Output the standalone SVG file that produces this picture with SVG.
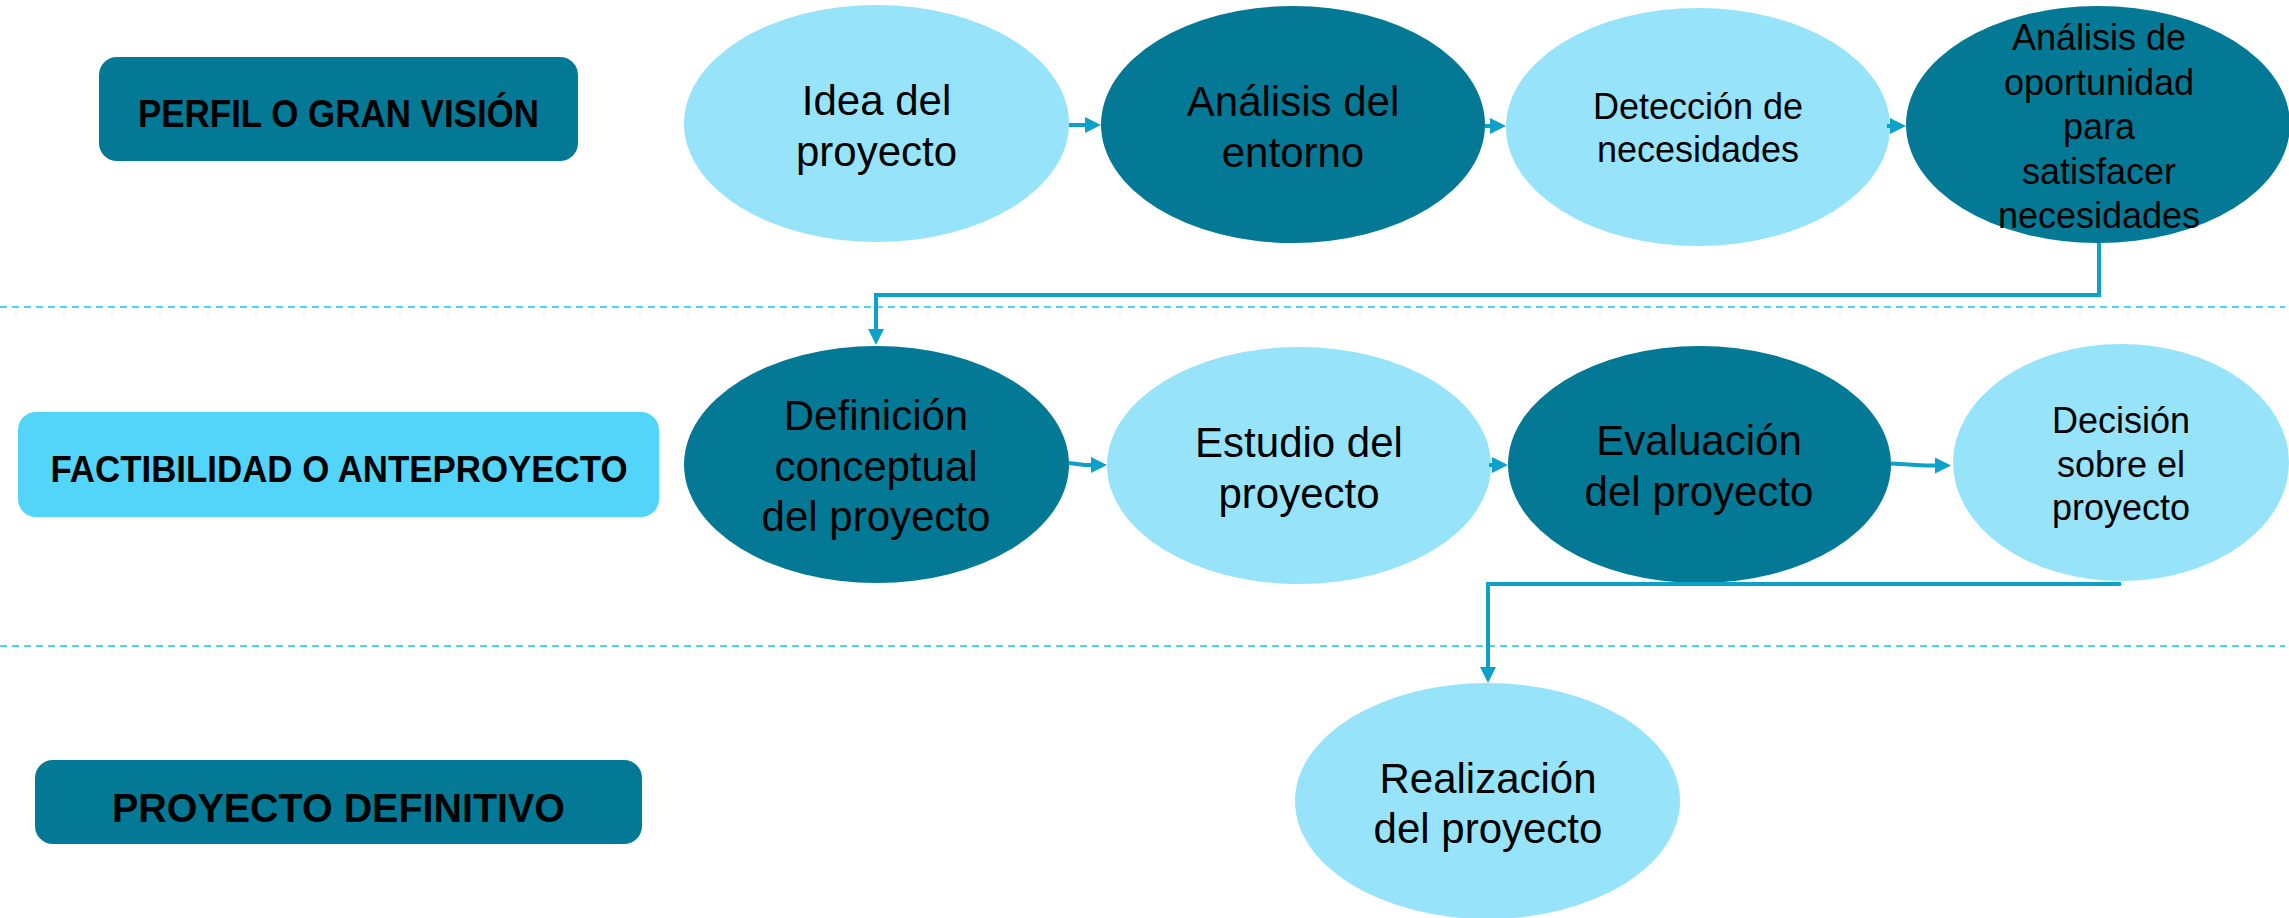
<svg xmlns="http://www.w3.org/2000/svg" width="2289" height="918" viewBox="0 0 2289 918">
<style>
.dark{fill:#037996}
.light{fill:#97e3fa}
.cyan{fill:#52d5f8}
.lbl{font-family:"Liberation Sans",Arial,sans-serif;font-weight:bold;fill:#000;text-anchor:middle}
.t{font-family:"Liberation Sans",Arial,sans-serif;fill:#000;text-anchor:middle;font-size:42px}
.s{font-size:36px}
.sep{stroke:#4fd3f2;stroke-width:2;stroke-dasharray:7 5;fill:none}
.con{stroke:#0ba1c9;stroke-width:4;fill:none}
</style>
<defs>
<marker id="ah" markerUnits="userSpaceOnUse" markerWidth="16" markerHeight="16" refX="0" refY="8" orient="auto" overflow="visible">
<path d="M0,0 L16,8 L0,16 z" fill="#0ba1c9"/>
</marker>
</defs>
<rect width="2289" height="918" fill="#fff"/>
<g id="separators">
<line class="sep" x1="0" y1="307" x2="2285" y2="307"/>
<line class="sep" x1="0" y1="646" x2="2285" y2="646"/>
</g>
<g id="stage-perfil">
<rect class="dark" x="99" y="57" width="479" height="104" rx="18"/>
<text class="lbl" x="338.5" y="127" font-size="38" textLength="401" lengthAdjust="spacingAndGlyphs">PERFIL O GRAN VISIÓN</text>
</g>
<g id="stage-factibilidad">
<rect class="cyan" x="18" y="412" width="641" height="105" rx="18"/>
<text class="lbl" x="339" y="482" font-size="36" textLength="577" lengthAdjust="spacingAndGlyphs">FACTIBILIDAD O ANTEPROYECTO</text>
</g>
<g id="stage-definitivo">
<rect class="dark" x="35" y="760" width="607" height="84" rx="18"/>
<text class="lbl" x="338.5" y="822" font-size="41" textLength="453" lengthAdjust="spacingAndGlyphs">PROYECTO DEFINITIVO</text>
</g>
<g id="n-idea">
<ellipse class="light" cx="876.5" cy="123.5" rx="192.5" ry="118.5"/>
<text class="t"><tspan x="876.5" y="115">Idea del</tspan><tspan x="876.5" y="166">proyecto</tspan></text>
</g>
<g id="n-entorno">
<ellipse class="dark" cx="1293" cy="124.5" rx="192" ry="118.5"/>
<text class="t"><tspan x="1293" y="116">Análisis del</tspan><tspan x="1293" y="167">entorno</tspan></text>
</g>
<g id="n-deteccion">
<ellipse class="light" cx="1698" cy="127" rx="192" ry="119"/>
<text class="t s"><tspan x="1698" y="119">Detección de</tspan><tspan x="1698" y="162">necesidades</tspan></text>
</g>
<g id="n-oportunidad">
<ellipse class="dark" cx="2098" cy="124.5" rx="192" ry="118.5"/>
<text class="t s"><tspan x="2099" y="50">Análisis de</tspan><tspan x="2099" y="94.5">oportunidad</tspan><tspan x="2099" y="139">para</tspan><tspan x="2099" y="183.5">satisfacer</tspan><tspan x="2099" y="228">necesidades</tspan></text>
</g>
<g id="n-definicion">
<ellipse class="dark" cx="876.5" cy="464.5" rx="192.5" ry="118.5"/>
<text class="t"><tspan x="876" y="430">Definición</tspan><tspan x="876" y="480.5">conceptual</tspan><tspan x="876" y="531">del proyecto</tspan></text>
</g>
<g id="n-estudio">
<ellipse class="light" cx="1299" cy="465.5" rx="192" ry="118.5"/>
<text class="t"><tspan x="1299" y="457">Estudio del</tspan><tspan x="1299" y="508">proyecto</tspan></text>
</g>
<g id="n-evaluacion">
<ellipse class="dark" cx="1699.5" cy="464.5" rx="191.5" ry="118.5"/>
<text class="t"><tspan x="1699" y="455">Evaluación</tspan><tspan x="1699" y="506">del proyecto</tspan></text>
</g>
<g id="n-decision">
<ellipse class="light" cx="2121" cy="462.5" rx="168" ry="118.5"/>
<text class="t s"><tspan x="2121" y="433">Decisión</tspan><tspan x="2121" y="476.5">sobre el</tspan><tspan x="2121" y="520">proyecto</tspan></text>
</g>
<g id="n-realizacion">
<ellipse class="light" cx="1487.5" cy="801" rx="192.5" ry="118"/>
<text class="t"><tspan x="1488" y="793">Realización</tspan><tspan x="1488" y="843">del proyecto</tspan></text>
</g>
<g id="connectors">
<path class="con" d="M1069,125 L1085,125" marker-end="url(#ah)"/>
<path class="con" d="M1485,126 L1490,126" marker-end="url(#ah)"/>
<path class="con" d="M1887,126 L1890,126" marker-end="url(#ah)"/>
<path class="con" d="M2099,243 V295 H876 V329" marker-end="url(#ah)"/>
<path class="con" d="M1069,463 L1085,465 L1091,465" marker-end="url(#ah)"/>
<path class="con" d="M1489,465 L1492,465" marker-end="url(#ah)"/>
<path class="con" d="M1891,463.5 L1925,465.5 L1935,465.5" marker-end="url(#ah)"/>
<path class="con" d="M2121,584 H1488 V667" marker-end="url(#ah)"/>
</g>
</svg>
